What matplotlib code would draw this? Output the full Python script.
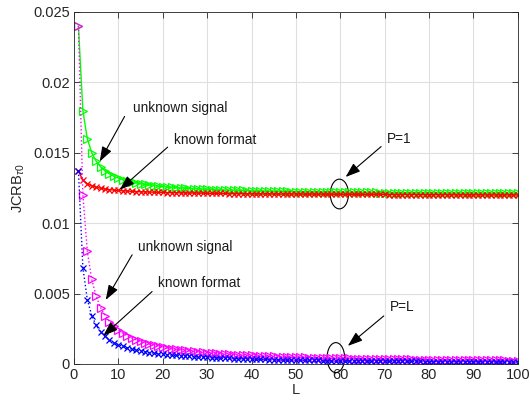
import matplotlib
matplotlib.use("Agg")
import matplotlib.pyplot as plt
from matplotlib.patches import Ellipse
import numpy as np

L = list(range(1, 101))

# P=1, unknown signal (green, solid, '>')
p1_unknown = [
    0.02400, 0.01800, 0.01600, 0.01500, 0.01440, 0.01400, 0.01371, 0.01350, 0.01333, 0.01320,
    0.01309, 0.01300, 0.01292, 0.01286, 0.01280, 0.01275, 0.01271, 0.01267, 0.01263, 0.01260,
    0.01257, 0.01255, 0.01252, 0.01250, 0.01248, 0.01246, 0.01244, 0.01243, 0.01241, 0.01240,
    0.01239, 0.01238, 0.01236, 0.01235, 0.01234, 0.01233, 0.01232, 0.01232, 0.01231, 0.01230,
    0.01229, 0.01229, 0.01228, 0.01227, 0.01227, 0.01226, 0.01226, 0.01225, 0.01224, 0.01224,
    0.01224, 0.01223, 0.01223, 0.01222, 0.01222, 0.01221, 0.01221, 0.01221, 0.01220, 0.01220,
    0.01220, 0.01219, 0.01219, 0.01219, 0.01218, 0.01218, 0.01218, 0.01218, 0.01217, 0.01217,
    0.01217, 0.01217, 0.01216, 0.01216, 0.01216, 0.01216, 0.01216, 0.01215, 0.01215, 0.01215,
    0.01215, 0.01215, 0.01214, 0.01214, 0.01214, 0.01214, 0.01214, 0.01214, 0.01213, 0.01213,
    0.01213, 0.01213, 0.01213, 0.01213, 0.01213, 0.01213, 0.01212, 0.01212, 0.01212, 0.01212,
]

# P=1, known format (red, solid, 'x')
p1_known = [
    0.01370, 0.01305, 0.01280, 0.01265, 0.01255, 0.01248, 0.01242, 0.01238, 0.01235, 0.01232,
    0.01230, 0.01228, 0.01226, 0.01224, 0.01223, 0.01222, 0.01221, 0.01220, 0.01219, 0.01218,
    0.01217, 0.01216, 0.01216, 0.01215, 0.01215, 0.01214, 0.01214, 0.01213, 0.01213, 0.01212,
    0.01212, 0.01211, 0.01211, 0.01211, 0.01210, 0.01210, 0.01210, 0.01209, 0.01209, 0.01209,
    0.01208, 0.01208, 0.01208, 0.01208, 0.01208, 0.01207, 0.01207, 0.01207, 0.01207, 0.01207,
    0.01206, 0.01206, 0.01206, 0.01206, 0.01206, 0.01206, 0.01206, 0.01205, 0.01205, 0.01205,
    0.01205, 0.01205, 0.01205, 0.01205, 0.01204, 0.01204, 0.01204, 0.01204, 0.01204, 0.01204,
    0.01203, 0.01203, 0.01203, 0.01203, 0.01203, 0.01203, 0.01203, 0.01202, 0.01202, 0.01202,
    0.01202, 0.01202, 0.01202, 0.01202, 0.01201, 0.01201, 0.01201, 0.01201, 0.01201, 0.01201,
    0.01201, 0.01201, 0.01200, 0.01200, 0.01200, 0.01200, 0.01200, 0.01200, 0.01200, 0.01200,
]

# P=L, unknown signal (magenta, dotted, '>')
pL_unknown = [
    0.02400, 0.01200, 0.00800, 0.00600, 0.00480, 0.00400, 0.00343, 0.00300, 0.00267, 0.00240,
    0.00218, 0.00200, 0.00185, 0.00171, 0.00160, 0.00150, 0.00141, 0.00133, 0.00126, 0.00120,
    0.00114, 0.00109, 0.00104, 0.00100, 0.00096, 0.00092, 0.00089, 0.00086, 0.00083, 0.00080,
    0.00077, 0.00075, 0.00073, 0.00071, 0.00069, 0.00067, 0.00065, 0.00063, 0.00062, 0.00060,
    0.00059, 0.00057, 0.00056, 0.00055, 0.00053, 0.00052, 0.00051, 0.00050, 0.00049, 0.00048,
    0.00047, 0.00046, 0.00045, 0.00044, 0.00044, 0.00043, 0.00042, 0.00041, 0.00041, 0.00040,
    0.00039, 0.00039, 0.00038, 0.00038, 0.00037, 0.00036, 0.00036, 0.00035, 0.00035, 0.00034,
    0.00034, 0.00033, 0.00033, 0.00032, 0.00032, 0.00032, 0.00031, 0.00031, 0.00030, 0.00030,
    0.00030, 0.00029, 0.00029, 0.00029, 0.00028, 0.00028, 0.00028, 0.00027, 0.00027, 0.00027,
    0.00026, 0.00026, 0.00026, 0.00026, 0.00025, 0.00025, 0.00025, 0.00024, 0.00024, 0.00024,
]

# P=L, known format (blue, dotted, 'x')
pL_known = [
    0.01370, 0.00685, 0.00457, 0.00343, 0.00274, 0.00228, 0.00196, 0.00171, 0.00152, 0.00137,
    0.00125, 0.00114, 0.00105, 0.00098, 0.00091, 0.00086, 0.00081, 0.00076, 0.00072, 0.00069,
    0.00065, 0.00062, 0.00060, 0.00057, 0.00055, 0.00053, 0.00051, 0.00049, 0.00047, 0.00046,
    0.00044, 0.00043, 0.00042, 0.00040, 0.00039, 0.00038, 0.00037, 0.00036, 0.00035, 0.00034,
    0.00033, 0.00033, 0.00032, 0.00031, 0.00030, 0.00030, 0.00029, 0.00029, 0.00028, 0.00027,
    0.00027, 0.00026, 0.00026, 0.00025, 0.00025, 0.00024, 0.00024, 0.00024, 0.00023, 0.00023,
    0.00022, 0.00022, 0.00022, 0.00021, 0.00021, 0.00021, 0.00020, 0.00020, 0.00020, 0.00020,
    0.00019, 0.00019, 0.00019, 0.00019, 0.00018, 0.00018, 0.00018, 0.00018, 0.00017, 0.00017,
    0.00017, 0.00017, 0.00017, 0.00016, 0.00016, 0.00016, 0.00016, 0.00016, 0.00015, 0.00015,
    0.00015, 0.00015, 0.00015, 0.00015, 0.00014, 0.00014, 0.00014, 0.00014, 0.00014, 0.00014,
]

xticks = [0, 10, 20, 30, 40, 50, 60, 70, 80, 90, 100]
xticklabels = ["0", "10", "20", "30", "40", "50", "60", "70", "80", "90", "100"]
yticks = [0, 0.005, 0.01, 0.015, 0.02, 0.025]
yticklabels = ["0", "0.005", "0.01", "0.015", "0.02", "0.025"]

plt.rcParams['font.family'] = ['Liberation Sans', 'DejaVu Sans']
plt.rcParams['mathtext.fontset'] = 'custom'
plt.rcParams['mathtext.rm'] = 'Liberation Sans'
plt.rcParams['mathtext.it'] = 'Liberation Sans:italic'

fig = plt.figure(figsize=(5.30, 4.08), dpi=100)
ax = fig.add_axes([0.1396, 0.108, 0.8374, 0.8626])

axc = '#262626'
ax.plot(L, p1_unknown, color=(0, 1, 0), lw=1.0, ls='-', marker='>', ms=6,
        mfc='none', mec=(0, 1, 0), mew=0.9)
ax.plot(L, p1_known, color=(1, 0, 0), lw=1.0, ls='-', marker='x', ms=4.2,
        mec=(1, 0, 0), mew=0.9)
ax.plot(L, pL_unknown, color=(1, 0, 1), lw=1.0, ls=':', marker='>', ms=6,
        mfc='none', mec=(1, 0, 1), mew=0.9)
ax.plot(L, pL_known, color=(0, 0, 1), lw=1.0, ls=':', marker='x', ms=4.2,
        mec=(0, 0, 1), mew=0.9)

ax.set_xlim(0, 100)
ax.set_ylim(0, 0.025)
ax.set_xticks(xticks)
ax.set_xticklabels(xticklabels)
ax.set_yticks(yticks)
ax.set_yticklabels(yticklabels)
ax.grid(True, color='#dfdfdf', lw=0.8)
ax.set_axisbelow(True)
ax.tick_params(direction='in', top=True, right=True, length=4, width=0.6,
               labelsize=10.5, colors=axc, pad=3)
for s in ax.spines.values():
    s.set_color(axc)
    s.set_linewidth(0.6)

ax.set_xlabel('L', fontsize=10.5, color=axc, labelpad=1)
ax.set_ylabel(r'JCRB$_{\tau0}$', fontsize=10.5, color=axc, labelpad=4)

arrowprops = dict(arrowstyle='-|>,head_length=0.9,head_width=0.32', color='k',
                  lw=0.8, shrinkA=0, shrinkB=0)

# annotations: (text, text_x, text_y, tail_x, tail_y, tip_x, tip_y)
notes = [
    ("unknown signal", 13.2, 0.01820, 11.4, 0.01758, 5.8, 0.01438),
    ("known format", 22.6, 0.01592, 21.1, 0.01540, 10.3, 0.01237),
    ("P=1", 70.6, 0.01600, 69.2, 0.01544, 61.2, 0.01328),
    ("unknown signal", 14.4, 0.00829, 13.1, 0.00775, 7.16, 0.00455),
    ("known format", 18.9, 0.00573, 17.6, 0.00514, 6.56, 0.00199),
    ("P=L", 71.1, 0.00403, 69.8, 0.00341, 61.7, 0.00128),
]
for txt, tx, ty, x0, y0, x1, y1 in notes:
    ax.text(tx, ty, txt, fontsize=9.8, color='#1a1a1a', ha='left', va='center')
    ax.annotate('', xy=(x1, y1), xytext=(x0, y0), arrowprops=arrowprops)

ax.add_patch(Ellipse((59.8, 0.01207), 4.1, 0.00211, fill=False, ec='k', lw=0.8))
ax.add_patch(Ellipse((59.0, 0.00045), 3.96, 0.00213, fill=False, ec='k', lw=0.8,
                     clip_on=False))

fig.savefig('out.png', dpi=100)
